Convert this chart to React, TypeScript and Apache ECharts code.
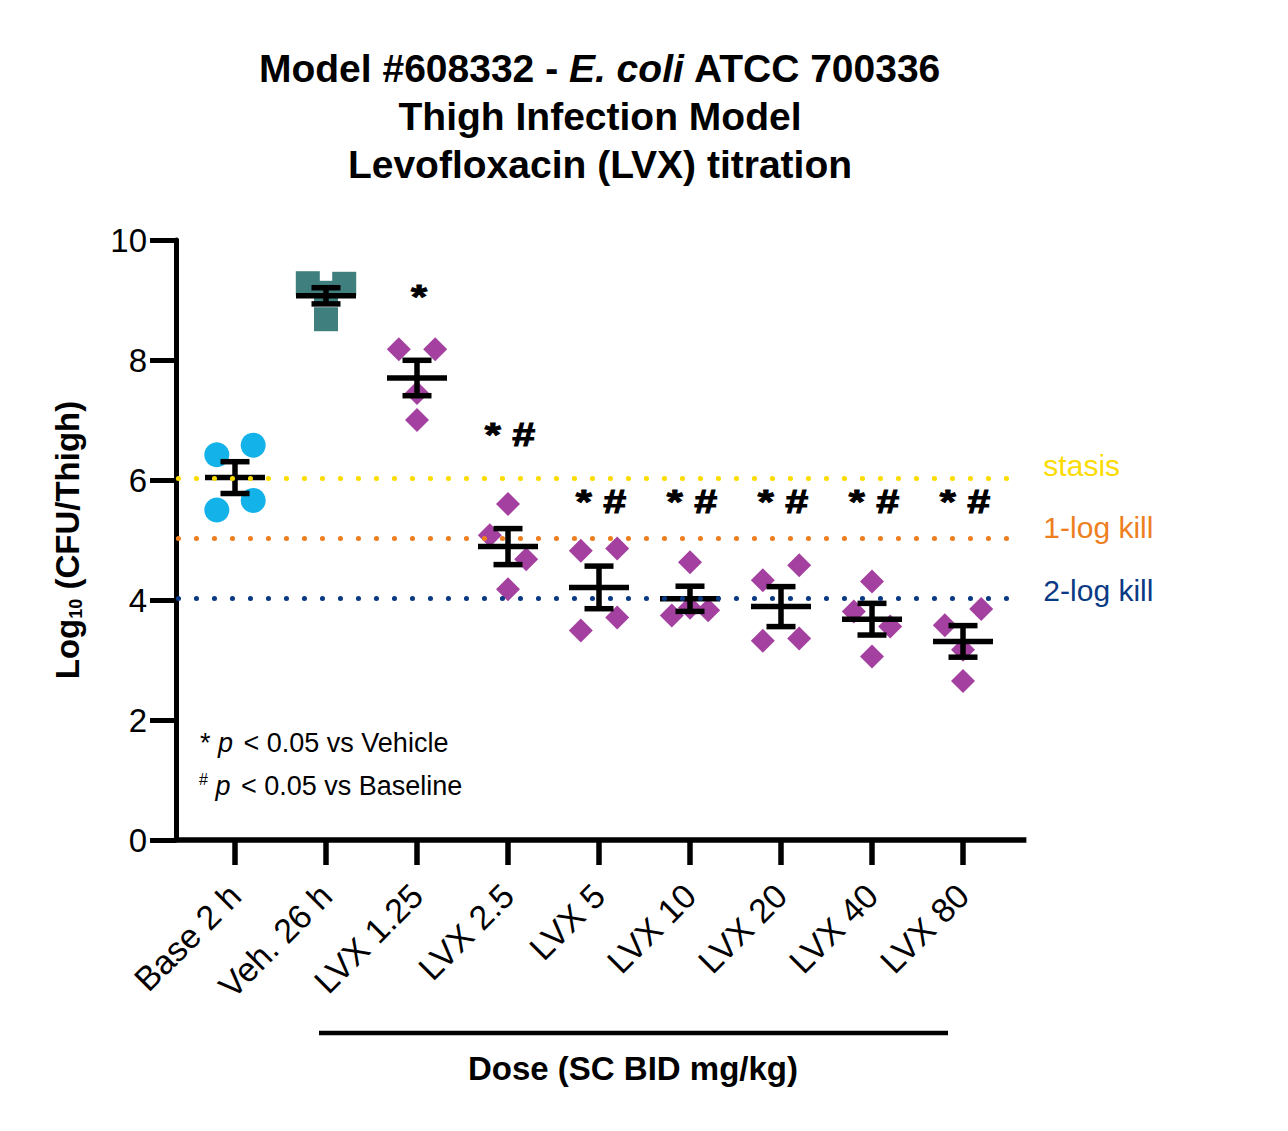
import React, { useEffect, useRef } from "react";
import * as echarts from "echarts";

// ---------- data ----------
const categories = ["Base 2 h", "Veh. 26 h", "LVX 1.25", "LVX 2.5", "LVX 5", "LVX 10", "LVX 20", "LVX 40", "LVX 80"];
const yMin = 0;
const yMax = 10;
const yInterval = 2;

const baseValues = [6.42, 6.58, 5.66, 5.5];
const vehValues = [9.28, 9.27, 8.68, 9.12];
const lvx125Values = [8.18, 8.18, 7.45, 7.0];
const lvx25Values = [5.6, 5.08, 4.68, 4.18];
const lvx5Values = [4.82, 4.86, 3.71, 3.49];
const lvx10Values = [4.63, 3.74, 3.83, 3.87];
const lvx20Values = [4.33, 4.58, 3.32, 3.36];
const lvx40Values = [4.31, 3.81, 3.56, 3.06];
const lvx80Values = [3.85, 3.58, 3.17, 2.65];

// horizontal scatter of the points within each group (in category units)
const baseJitter = [-0.2, 0.2, 0.2, -0.2];
const vehJitter = [-0.2, 0.2, 0, 0];
const lvx125Jitter = [-0.2, 0.2, 0, 0];
const lvx25Jitter = [0, -0.2, 0.2, 0];
const lvx5Jitter = [-0.2, 0.2, 0.2, -0.2];
const lvx10Jitter = [0, -0.2, 0.2, 0];
const lvx20Jitter = [-0.2, 0.2, -0.2, 0.2];
const lvx40Jitter = [0, -0.2, 0.2, 0];
const lvx80Jitter = [0.2, -0.2, 0, 0];

const groupValues = [baseValues, vehValues, lvx125Values, lvx25Values, lvx5Values, lvx10Values, lvx20Values, lvx40Values, lvx80Values];
const groupJitter = [baseJitter, vehJitter, lvx125Jitter, lvx25Jitter, lvx5Jitter, lvx10Jitter, lvx20Jitter, lvx40Jitter, lvx80Jitter];

const means = [6.04, 9.07, 7.7, 4.89, 4.21, 4.02, 3.89, 3.68, 3.31];
const sems = [0.265, 0.135, 0.295, 0.3, 0.355, 0.21, 0.333, 0.264, 0.263];

const annotations = ["", "", "*", "* #", "* #", "* #", "* #", "* #", "* #"];
const annotationY = [null, null, 9.05, 6.76, 5.64, 5.64, 5.64, 5.64, 5.64];

const refNames = ["stasis", "1-log kill", "2-log kill"];
const refValues = [6.03, 5.03, 4.03];

// ---------- styles ----------
const FONT = "'Liberation Sans', Arial, Helvetica, sans-serif";
const refColors = ["#FCDC00", "#EE7F1F", "#0B3A84"];
const refLabelShift = [-13, -11, -8];
const baseColor = "#13B2E8";
const vehColor = "#3F7F7D";
const lvxColor = "#A4409F";

// full-width overlay axis (spans the drawn x axis line)
const overlayXMin = -0.68;
const overlayXMax = 8.71;

function pointsFor(idx: number[]) {
  const out: number[][] = [];
  idx.forEach((g) => {
    groupValues[g].forEach((v, k) => out.push([g + groupJitter[g][k], v]));
  });
  return out;
}

export default function App() {
  const ref = useRef<HTMLDivElement | null>(null);

  useEffect(() => {
    document.body.style.margin = "0";
    if (!ref.current) return;
    const chart = echarts.init(ref.current, undefined, { renderer: "svg" });

    const errData = means.map((m, i) => [i, m, sems[i]]);
    const annData = annotations
      .map((t, i) => ({ t, i }))
      .filter((d) => d.t !== "")
      .map((d) => ({ value: [d.i, annotationY[d.i] as number], labelText: d.t }));

    const refLineData: any[] = refValues.map((v, i) => [
      {
        coord: [-0.626, v],
        name: refNames[i],
        lineStyle: { color: refColors[i], width: 5, type: [0.1, 17.9], cap: "round", opacity: 1 },
        label: {
          show: true,
          position: "end",
          distance: 20,
          formatter: "{b}",
          fontFamily: FONT,
          fontSize: 30,
          color: refColors[i],
          offset: [0, refLabelShift[i]],
        },
      },
      { coord: [8.67, v] },
    ]);
    refLineData.push([
      {
        coord: [-0.676, yMin],
        name: "",
        lineStyle: { color: "#000", width: 5.5, type: "solid", cap: "butt", opacity: 1 },
        label: { show: false },
      },
      { coord: [8.703, yMin] },
    ]);

    const option: any = {
      animation: false,
      backgroundColor: "#ffffff",
      title: {
        left: 600,
        top: 44,
        textAlign: "center",
        padding: 0,
        text:
          "{b|Model #608332 - }{bi|E. coli}{b| ATCC 700336}\n{b|Thigh Infection Model}\n{b|Levofloxacin (LVX) titration}",
        textStyle: {
          rich: {
            b: { fontFamily: FONT, fontSize: 39, fontWeight: "bold", color: "#000", lineHeight: 48 },
            bi: { fontFamily: FONT, fontSize: 39, fontWeight: "bold", fontStyle: "italic", color: "#000", lineHeight: 48 },
          },
        },
      },
      grid: [
        { left: 189.5, width: 819, top: 240, height: 600, containLabel: false },
        { left: 173.5, width: 853.5, top: 240, height: 600, containLabel: false },
      ],
      xAxis: [
        {
          type: "category",
          gridIndex: 0,
          data: categories,
          boundaryGap: true,
          axisLine: { show: false },
          axisTick: { show: true, alignWithLabel: true, length: 25, lineStyle: { color: "#000", width: 5.5 } },
          axisLabel: {
            rotate: 45,
            interval: 0,
            margin: 50,
            padding: [26, 0, 0, 0],
            fontFamily: FONT,
            fontSize: 34,
            color: "#000",
          },
          splitLine: { show: false },
        },
        { type: "value", gridIndex: 0, min: -0.5, max: 8.5, show: false },
        { type: "value", gridIndex: 1, min: overlayXMin, max: overlayXMax, show: false },
      ],
      yAxis: [
        {
          type: "value",
          gridIndex: 0,
          min: yMin,
          max: yMax,
          interval: yInterval,
          offset: 13.5,
          axisLine: { show: true, onZero: false, lineStyle: { color: "#000", width: 5 } },
          axisTick: { show: true, length: 26, lineStyle: { color: "#000", width: 5 } },
          axisLabel: { fontFamily: FONT, fontSize: 33, color: "#000", margin: 29 },
          splitLine: { show: false },
          name: "{b|Log}{s|10}{b| (CFU/Thigh)}",
          nameLocation: "middle",
          nameRotate: 90,
          nameGap: 91,
          nameTextStyle: {
            rich: {
              b: { fontFamily: FONT, fontSize: 33, fontWeight: "bold", color: "#000", lineHeight: 36 },
              s: { fontFamily: FONT, fontSize: 18, fontWeight: "bold", color: "#000", lineHeight: 18, verticalAlign: "bottom" },
            },
          },
        },
        { type: "value", gridIndex: 1, min: yMin, max: yMax, show: false },
      ],
      series: [
        {
          type: "scatter",
          xAxisIndex: 1,
          yAxisIndex: 0,
          symbol: "circle",
          symbolSize: 25,
          itemStyle: { color: baseColor, opacity: 1 },
          data: pointsFor([0]),
          z: 2,
        },
        {
          type: "scatter",
          xAxisIndex: 1,
          yAxisIndex: 0,
          symbol: "rect",
          symbolSize: 24,
          itemStyle: { color: vehColor, opacity: 1 },
          data: pointsFor([1]),
          z: 2,
        },
        {
          type: "scatter",
          xAxisIndex: 1,
          yAxisIndex: 0,
          symbol: "diamond",
          symbolSize: 24,
          itemStyle: { color: lvxColor, opacity: 1 },
          data: pointsFor([2, 3, 4, 5, 6, 7, 8]),
          z: 2,
        },
        {
          type: "custom",
          xAxisIndex: 1,
          yAxisIndex: 0,
          z: 4,
          data: errData,
          renderItem: (params: any, api: any) => {
            const x = api.value(0);
            const m = api.value(1);
            const s = api.value(2);
            const pm = api.coord([x, m]);
            const pt = api.coord([x, m + s]);
            const pb = api.coord([x, m - s]);
            const mh = 30;
            const ch = 14.5;
            const style = { stroke: "#000", lineWidth: 5.5 };
            return {
              type: "group",
              children: [
                { type: "line", shape: { x1: pm[0] - mh, y1: pm[1], x2: pm[0] + mh, y2: pm[1] }, style },
                { type: "line", shape: { x1: pt[0], y1: pt[1], x2: pb[0], y2: pb[1] }, style },
                { type: "line", shape: { x1: pt[0] - ch, y1: pt[1], x2: pt[0] + ch, y2: pt[1] }, style },
                { type: "line", shape: { x1: pb[0] - ch, y1: pb[1], x2: pb[0] + ch, y2: pb[1] }, style },
              ],
            };
          },
        },
        {
          type: "custom",
          xAxisIndex: 1,
          yAxisIndex: 0,
          z: 5,
          data: annData,
          renderItem: (params: any, api: any) => {
            const p = api.coord([api.value(0), api.value(1)]);
            const item = annData[params.dataIndex];
            return {
              type: "text",
              x: p[0] + 2,
              y: p[1],
              scaleX: 1.25,
              style: {
                text: item.labelText,
                fontFamily: FONT,
                fontSize: 33,
                fontWeight: "bold",
                fill: "#000",
                stroke: "#000",
                lineWidth: 1,
                align: "center",
                verticalAlign: "middle",
              },
            };
          },
        },
        {
          type: "scatter",
          xAxisIndex: 2,
          yAxisIndex: 1,
          symbolSize: 0,
          itemStyle: { color: "rgba(0,0,0,0)" },
          data: [[0, yMin]],
          z: 10,
          markLine: {
            silent: true,
            symbol: "none",
            z: 10,
            animation: false,
            data: refLineData,
          },
        },
      ],
      graphic: [
        {
          type: "text",
          left: 200,
          top: 728,
          style: {
            text: "* {i|p} < 0.05 vs Vehicle",
            fontFamily: FONT,
            fontSize: 27,
            lineHeight: 30,
            fill: "#000",
            rich: {
              i: { fontFamily: FONT, fontSize: 27, lineHeight: 30, fontStyle: "italic", fill: "#000", padding: [0, 3, 0, 0] },
            },
          },
        },
        {
          type: "text",
          left: 199,
          top: 771,
          style: {
            text: "{s|#} {i|p} < 0.05 vs Baseline",
            fontFamily: FONT,
            fontSize: 27,
            lineHeight: 30,
            fill: "#000",
            rich: {
              s: { fontFamily: FONT, fontSize: 16, lineHeight: 16, verticalAlign: "top", fill: "#000" },
              i: { fontFamily: FONT, fontSize: 27, lineHeight: 30, fontStyle: "italic", fill: "#000", padding: [0, 3, 0, 0] },
            },
          },
        },
        {
          type: "line",
          shape: { x1: 319, y1: 1033, x2: 948, y2: 1033 },
          style: { stroke: "#000", lineWidth: 4.5 },
        },
        {
          type: "text",
          x: 633,
          y: 1068,
          style: {
            text: "Dose (SC BID mg/kg)",
            fontFamily: FONT,
            fontSize: 33,
            fontWeight: "bold",
            fill: "#000",
            align: "center",
            verticalAlign: "middle",
          },
        },
      ],
    };

    chart.setOption(option);
    return () => chart.dispose();
  }, []);

  return <div ref={ref} style={{ width: 1288, height: 1131 }} />;
}
